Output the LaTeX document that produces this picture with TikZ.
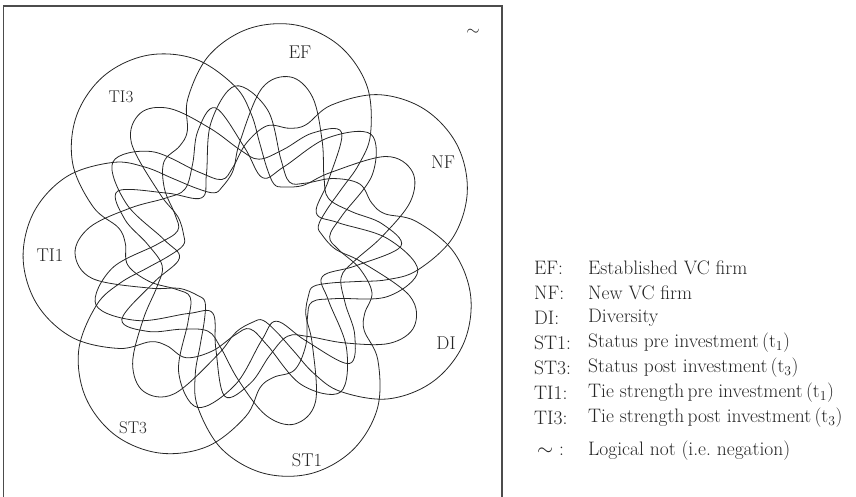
\documentclass[tikz,border=0pt]{standalone}
\begin{document}
\begin{tikzpicture}[x=1pt,y=1pt,
  setline/.style={line width=0.8pt, black!85},
  setlabel/.style={font=\fontsize{18.5}{21}\selectfont, text=black!85},
  legkey/.style={font=\fontsize{19.5}{22}\selectfont, anchor=west, text=black!85, inner sep=0pt},
  legtext/.style={font=\fontsize{19.5}{22}\selectfont, anchor=west, text=black!85, inner sep=0pt}]
\useasboundingbox (0,0) rectangle (856,497);
\draw[line width=1.2pt, black!70] (3.5,-5) -- (3.5,491) -- (502,491) -- (502,-5);
\begin{scope}[shift={(253,246)}]
\foreach \a in {79,27.571,-23.857,-75.286,-126.714,-178.143,-229.571}{
  \draw[setline] plot[smooth cycle, tension=0.6] coordinates {
    ({\a-180}:148) ({\a-170}:132) ({\a-160}:106) ({\a-147}:92) ({\a-136}:102)
    ({\a-124}:130) ({\a-113}:165)
    ({\a-104}:178) ({\a-95}:163) ({\a-85}:110) ({\a-78}:83) ({\a-66}:71)
    ({\a-58}:70) ({\a-50}:84) ({\a-44}:108)
    ({\a-39.7}:136.8) ({\a-34.2}:165.6) ({\a-23.7}:200.4) ({\a-12.07}:222.4)
    ({\a}:230) ({\a+12.07}:222.4) ({\a+23.7}:200.4) ({\a+34.2}:165.6)
    ({\a+39.7}:136.8) ({\a+46}:128) ({\a+56}:126) ({\a+66}:108) ({\a+76}:86)
    ({\a+86}:78) ({\a+97}:96) ({\a+108}:142) ({\a+120}:166) ({\a+132}:135)
    ({\a+145}:90) ({\a+158}:74) ({\a+170}:104)};
}
\end{scope}
\node[setlabel] (ef) at (300,445) {EF};
\node[setlabel] (nf) at (443,335) {NF};
\node[setlabel] (di) at (446,154) {DI};
\node[setlabel] (st1) at (307,37) {ST1};
\node[setlabel, font=\fontsize{17}{20}\selectfont] (st3) at (133,69) {ST3};
\node[setlabel] (ti1) at (50,242) {TI1};
\node[setlabel, font=\fontsize{17}{20}\selectfont] (ti3) at (121,400) {TI3};
\node[setlabel] (neg) at (473,465) {$\sim$};
\node[legkey] (k1) at (534,229) {EF:};
\node[legkey] (k2) at (534,204) {NF:};
\node[legkey] (k3) at (534,179) {DI:};
\node[legkey] (k4) at (534,154) {ST1:};
\node[legkey] (k5) at (534,129) {ST3:};
\node[legkey] (k6) at (534,104) {TI1:};
\node[legkey] (k7) at (534,79) {TI3:};
\node[legkey] (k8) at (537,46) {$\sim$ :};
\node[legtext] (d1) at (588,229) {Established VC firm};
\node[legtext] (d2) at (588,204) {New VC firm};
\node[legtext] (d3) at (588,179) {Diversity};
\node[legtext] (d4) at (588,154) {Status pre investment\,(t\textsubscript{1})};
\node[legtext] (d5) at (588,129) {Status post investment\,(t\textsubscript{3})};
\node[legtext] (d6) at (588,104) {Tie strength\,pre investment\,(t\textsubscript{1})};
\node[legtext] (d7) at (588,79) {Tie strength\,post investment\,(t\textsubscript{3})};
\node[legtext] (d8) at (588,46) {Logical not (i.e.\ negation)};
\end{tikzpicture}
\end{document}
